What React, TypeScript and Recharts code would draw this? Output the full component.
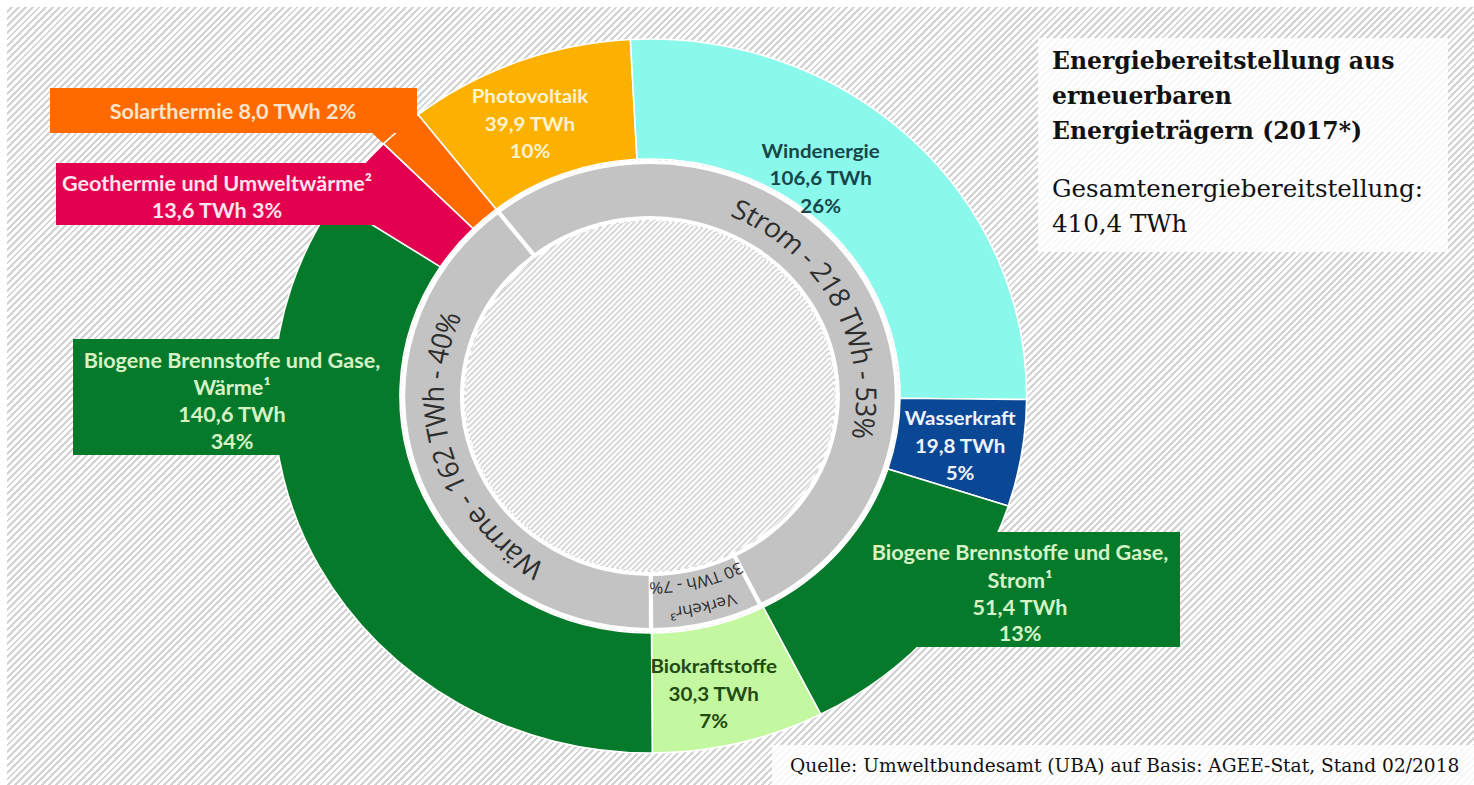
import { PieChart, Pie, Cell } from "recharts";

// chart geometry (the original graphic is a slightly stretched circle)
const W = 1474;
const H = 785;
const CX = 650;
const CY = 396;
const SX = 1.055;

// outer ring: energy sources
const sourceNames = [
  "Photovoltaik",
  "Windenergie",
  "Wasserkraft",
  "Biogene Brennstoffe und Gase, Strom¹",
  "Biokraftstoffe",
  "Biogene Brennstoffe und Gase, Wärme¹",
  "Geothermie und Umweltwärme²",
  "Solarthermie",
];
const sourceTwh = [39.9, 106.6, 19.8, 51.4, 30.3, 140.6, 13.6, 8.0];
const sourceShare = [10, 26, 5, 13, 7, 34, 3, 2];

// inner ring: sectors
const sectorNames = ["Strom", "Verkehr³", "Wärme"];
const sectorTwh = [218, 30, 162];
const sectorShare = [53, 7, 40];

const totalTwh = "410,4";

const sourceColors = ["#fcb100", "#8bf8ec", "#0a4896", "#067a2b", "#c3f7a0", "#067a2b", "#e2004f", "#ff6a00"];
const sourceTextColors = ["#fff3d2", "#17474a", "#eef3fb", "#d6f3c6", "#214b12", "#d6f3c6", "#ffe3ec", "#ffe4cc"];

const outerData = sourceNames.map((name, i) => ({ name, value: sourceTwh[i], share: sourceShare[i] }));
const innerData = sectorNames.map((name, i) => ({ name, value: sectorTwh[i], share: sectorShare[i] }));

const fmt = (v: number) => v.toFixed(1).replace(".", ",");
const LABEL_FONT = "Lato, 'Open Sans', sans-serif";

// labels drawn inside the ring (angle in degrees, radius in chart px)
const inlinePos: Record<number, { a: number; r: number }> = {
  0: { a: 112.6, r: 296 },
  1: { a: 53.5, r: 272 },
  2: { a: -9.5, r: 298 },
  4: { a: -78.5, r: 303 },
};

// boxed labels outside the ring, screen coords
const boxes: Record<number, { x: number; y: number; w: number; h: number; tx: number; ty: number[] }> = {
  7: { x: 50, y: 88, w: 367, h: 45, tx: 233, ty: [111] },
  6: { x: 56, y: 163, w: 334, h: 62, tx: 217, ty: [183, 210] },
  5: { x: 73, y: 339, w: 240, h: 116, tx: 232, ty: [360, 387, 414, 441] },
  3: { x: 905, y: 532, w: 275, h: 115, tx: 1020, ty: [552, 580, 607, 633] },
};

const labelLines = (i: number) => {
  const d = outerData[i];
  if (i === 7) return [`${d.name} ${fmt(d.value)} TWh ${d.share}%`];
  if (i === 6) return [d.name, `${fmt(d.value)} TWh ${d.share}%`];
  const parts = d.name.includes(", ") ? d.name.split(", ") : [d.name];
  const head = parts.length > 1 ? [parts[0] + ",", parts[1]] : parts;
  return [...head, `${fmt(d.value)} TWh`, `${d.share}%`];
};

const rad = Math.PI / 180;

const arcPath = (cx: number, cy: number, r: number, a0: number, a1: number) => {
  const x0 = cx + r * Math.cos(a0 * rad);
  const y0 = cy - r * Math.sin(a0 * rad);
  const x1 = cx + r * Math.cos(a1 * rad);
  const y1 = cy - r * Math.sin(a1 * rad);
  const large = Math.abs(a0 - a1) > 180 ? 1 : 0;
  return `M${x0},${y0} A${r},${r} 0 ${large} 1 ${x1},${y1}`;
};

const ringOffsets = ["52.5%", "50%", "51%"];

const renderRingLabel = (p: any) => {
  const { cx, cy, startAngle, endAngle, index } = p;
  const d = innerData[index];
  const small = index === 1;
  // short sector: let the text path run past the sector ends so nothing is clipped
  const a0 = small ? startAngle + 15 : startAngle;
  const a1 = small ? endAngle - 15 : endAngle;
  const lines = small
    ? [
        { r: 219, text: d.name },
        { r: 193, text: `${d.value} TWh - ${d.share}%` },
      ]
    : [{ r: 206, text: `${d.name} - ${d.value} TWh - ${d.share}%` }];
  const size = small ? 16 : 27;
  return (
    <g key={`ring-${index}`}>
      {lines.map((l, j) => {
        const id = `ring-arc-${index}-${j}`;
        return (
          <g key={id}>
            <path id={id} d={arcPath(cx, cy, l.r, a0, a1)} fill="none" stroke="none" />
            <text fontFamily="'Open Sans', sans-serif" fontSize={size} fill="#2e2e2e" dominantBaseline="central">
              <textPath href={`#${id}`} startOffset={ringOffsets[index]} textAnchor="middle">
                {l.text}
              </textPath>
            </text>
          </g>
        );
      })}
    </g>
  );
};

const renderSourceLabel = (p: any) => {
  const { cx, cy, index } = p;
  const pos = inlinePos[index];
  if (!pos) return null;
  const x = cx + pos.r * Math.cos(pos.a * rad);
  const y = cy - pos.r * Math.sin(pos.a * rad);
  const lines = labelLines(index);
  return (
    <text
      key={`src-${index}`}
      x={x}
      y={y}
      textAnchor="middle"
      dominantBaseline="central"
      fontFamily={LABEL_FONT}
      fontWeight={700}
      fontSize={19.5}
      fill={sourceTextColors[index]}
    >
      {lines.map((t, j) => (
        <tspan key={j} x={x} y={y + (j - (lines.length - 1) / 2) * 27.5}>
          {t}
        </tspan>
      ))}
    </text>
  );
};

const hatchBg =
  "repeating-linear-gradient(135deg, #ffffff 0px, #ffffff 2.8px, #d2d2d2 2.8px, #d2d2d2 4.8px)";

export default function App() {
  return (
    <div style={{ position: "absolute", left: 0, top: 0, width: W, height: H, overflow: "hidden", background: "#fff" }}>
      <div style={{ position: "absolute", left: 7, top: 7, width: W - 7, height: H - 7, backgroundImage: hatchBg }} />

      <div
        style={{
          position: "absolute",
          left: 0,
          top: 0,
          width: W,
          height: H,
          transform: `scaleX(${SX})`,
          transformOrigin: `${CX}px 0px`,
        }}
      >
        <PieChart width={W} height={H} margin={{ top: 0, right: 0, bottom: 0, left: 0 }}>
          <Pie
            data={outerData}
            dataKey="value"
            cx={CX}
            cy={CY}
            startAngle={128}
            endAngle={-232}
            innerRadius={340}
            outerRadius={392}
            stroke="none"
            isAnimationActive={false}
          >
            {outerData.map((d, i) => (
              <Cell key={d.name} fill={i === 7 ? sourceColors[i] : "none"} />
            ))}
          </Pie>
          <Pie
            data={outerData}
            dataKey="value"
            cx={CX}
            cy={CY}
            startAngle={128}
            endAngle={-232}
            innerRadius={237}
            outerRadius={357}
            stroke="#fff"
            strokeWidth={1.5}
            label={renderSourceLabel}
            labelLine={false}
            isAnimationActive={false}
          >
            {outerData.map((d, i) => (
              <Cell key={d.name} fill={sourceColors[i]} />
            ))}
          </Pie>
          <Pie
            data={innerData}
            dataKey="value"
            cx={CX}
            cy={CY}
            startAngle={128}
            endAngle={-232}
            innerRadius={178}
            outerRadius={234}
            fill="#c3c3c3"
            stroke="#fff"
            strokeWidth={4}
            label={renderRingLabel}
            labelLine={false}
            isAnimationActive={false}
          />
        </PieChart>
      </div>

      <svg width={W} height={H} style={{ position: "absolute", left: 0, top: 0, pointerEvents: "none" }}>
        <defs>
          <pattern id="holeHatch" patternUnits="userSpaceOnUse" width="4" height="4" patternTransform="rotate(45)">
            <rect x="0" y="0" width="4" height="4" fill="#ffffff" />
            <rect x="1" y="0" width="1.6" height="4" fill="#cfcfcf" />
          </pattern>
        </defs>
        {/* hatched hole inside the ring */}
        <ellipse cx={CX} cy={CY} rx={175 * SX} ry={175} fill="url(#holeHatch)" />

        {Object.entries(boxes).map(([k, b]) => {
          const i = Number(k);
          const lines = labelLines(i);
          return (
            <g key={k}>
              <rect x={b.x} y={b.y} width={b.w} height={b.h} fill={sourceColors[i]} />
              <text
                textAnchor="middle"
                dominantBaseline="central"
                fontFamily={LABEL_FONT}
                fontWeight={700}
                fontSize={21.6}
                fill={sourceTextColors[i]}
              >
                {lines.map((t, j) => (
                  <tspan key={j} x={b.tx} y={b.ty[j]}>
                    {t}
                  </tspan>
                ))}
              </text>
            </g>
          );
        })}

        <rect x={1038} y={38} width={410} height={214} fill="#fff" fillOpacity={0.85} />
        <g fontFamily="'DejaVu Serif', serif" fill="#111">
          <text x={1052} y={69} fontSize={23.5} fontWeight={700}>Energiebereitstellung aus</text>
          <text x={1052} y={104} fontSize={23.5} fontWeight={700}>erneuerbaren</text>
          <text x={1052} y={139} fontSize={23.5} fontWeight={700}>Energieträgern (2017*)</text>
          <text x={1052} y={197} fontSize={24.5}>Gesamtenergiebereitstellung:</text>
          <text x={1052} y={232} fontSize={24.5}>{totalTwh} TWh</text>
        </g>

        <rect x={772} y={745} width={W - 772} height={40} fill="#fff" fillOpacity={0.85} />
        <text x={790} y={772} fontFamily="'DejaVu Serif', serif" fontSize={18.6} fill="#111">
          Quelle: Umweltbundesamt (UBA) auf Basis: AGEE-Stat, Stand 02/2018
        </text>
      </svg>
    </div>
  );
}
